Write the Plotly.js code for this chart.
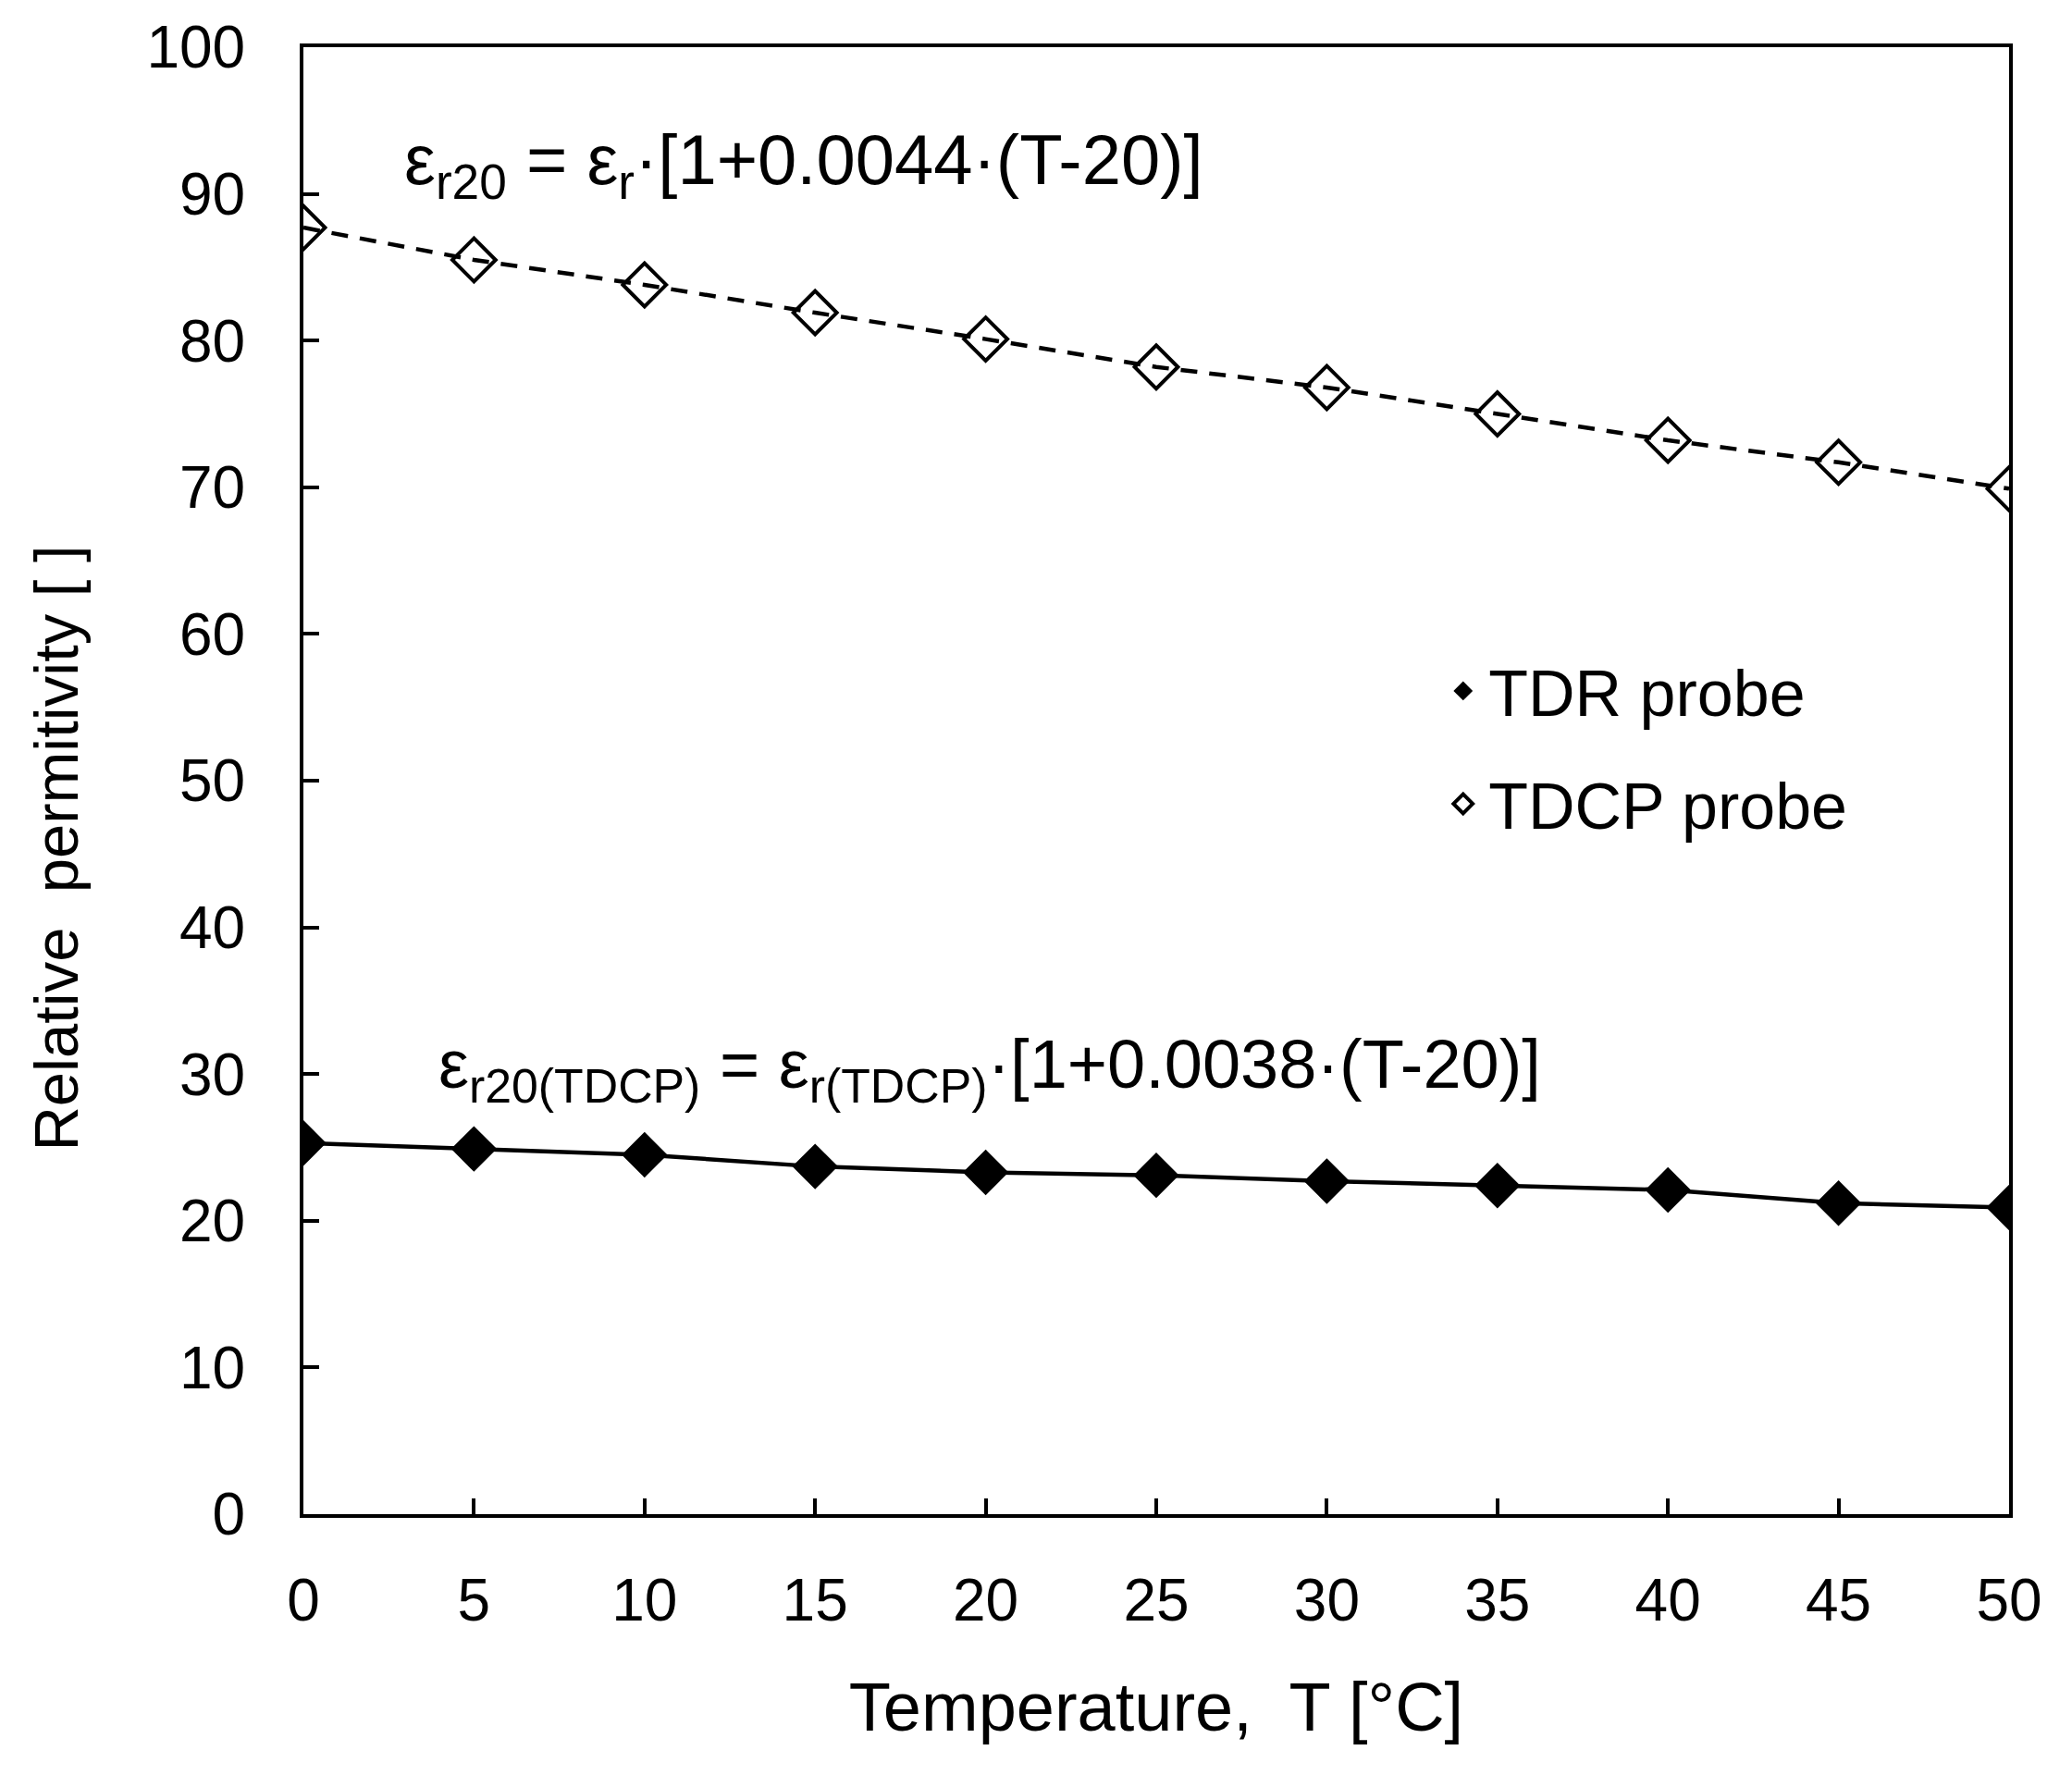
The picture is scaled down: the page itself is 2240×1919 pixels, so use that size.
<!DOCTYPE html>
<html>
<head>
<meta charset="utf-8">
<script src="https://cdn.plot.ly/plotly-3.0.1.min.js"></script>
<style>
  html, body { margin: 0; padding: 0; background: #fff; }
  #chart { width: 2240px; height: 1919px; }
</style>
</head>
<body>
<div id="chart"></div>
<script>
// 온도 vs 상대유전율 — TDR / TDCP 프로브. 값은 그림에서 읽음.
const temps = [0, 5, 10, 15, 20, 25, 30, 35, 40, 45, 50];
const tdcpVals = [87.7, 85.5, 83.8, 81.9, 80.1, 78.2, 76.8, 75.0, 73.2, 71.7, 69.9]; // 빈 마름모(위)
const tdrVals = [25.3, 24.9, 24.5, 23.7, 23.3, 23.1, 22.7, 22.4, 22.1, 21.2, 20.9];   // 채운 마름모(아래)
const xTicks = [0, 5, 10, 15, 20, 25, 30, 35, 40, 45, 50];
const yTicks = [0, 10, 20, 30, 40, 50, 60, 70, 80, 90, 100];

const FONT = '"Liberation Sans", Arial, sans-serif';
const INK = '#000';
const NB = '\u00a0';

// 선은 범례 없이, 마커 trace 만 범례에 (원본 범례는 마커만 표시)
const traces = [
  {
    x: temps, y: tdrVals, mode: 'lines', showlegend: false, hoverinfo: 'skip',
    line: { color: INK, width: 4.5 },
  },
  {
    x: temps, y: tdcpVals, mode: 'lines', showlegend: false, hoverinfo: 'skip',
    line: { color: INK, width: 4.5, dash: '18px,13px' },
  },
  {
    x: temps, y: tdrVals, name: 'TDR probe', mode: 'markers', legendgroup: 'a',
    marker: { symbol: 'diamond', size: 38, color: INK },
  },
  {
    x: temps, y: tdcpVals, name: 'TDCP probe', mode: 'markers', legendgroup: 'b',
    marker: { symbol: 'diamond-open', size: 36, color: INK, line: { width: 4, color: INK } },
  },
];

const axisBase = {
  showgrid: false, zeroline: false, showline: true, mirror: true,
  linecolor: INK, linewidth: 4, ticks: 'inside', ticklen: 17, tickwidth: 4, tickcolor: INK,
  tickfont: { family: FONT, size: 64, color: INK },
};

const layout = {
  width: 2240, height: 1919,
  paper_bgcolor: '#fff', plot_bgcolor: '#fff',
  font: { family: FONT, color: INK },
  margin: { l: 328, r: 68, t: 51, b: 282 },
  showlegend: true,
  legend: {
    x: 0.665, y: 0.594, xanchor: 'left', yanchor: 'top',
    font: { family: FONT, size: 70, color: INK },
    itemwidth: 45, tracegroupgap: 28, bgcolor: 'rgba(0,0,0,0)',
  },
  xaxis: {
    ...axisBase, range: [0, 50], tickvals: xTicks, ticklabelstandoff: 34,
    title: { text: 'Temperature,' + NB + ' T [°C]', font: { family: FONT, size: 74, color: INK }, standoff: 55 },
  },
  yaxis: {
    ...axisBase, range: [0, 100], tickvals: yTicks, ticklabelstandoff: 46,
  },
  annotations: [
    // y축 제목: 원본은 플롯 중앙보다 아래쪽에 있어 annotation 으로 배치
    {
      x: -0.145, y: 0.454, xref: 'paper', yref: 'paper', xanchor: 'center', yanchor: 'middle',
      showarrow: false, textangle: -90,
      text: 'Relative' + NB + ' permitivity [ ]',
      font: { family: FONT, size: 67, color: INK },
    },
    {
      x: 2.9, y: 92, xref: 'x', yref: 'y', xanchor: 'left', yanchor: 'middle', showarrow: false,
      text: 'ε<sub>r20</sub> = ε<sub>r</sub>·[1+0.0044·(T-20)]',
      font: { family: FONT, size: 76, color: INK },
    },
    {
      x: 3.9, y: 30.3, xref: 'x', yref: 'y', xanchor: 'left', yanchor: 'middle', showarrow: false,
      text: 'ε<sub>r20(TDCP)</sub> = ε<sub>r(TDCP)</sub>·[1+0.0038·(T-20)]',
      font: { family: FONT, size: 74, color: INK },
    },
  ],
};

Plotly.newPlot('chart', traces, layout, { displayModeBar: false, staticPlot: true });
</script>
</body>
</html>
